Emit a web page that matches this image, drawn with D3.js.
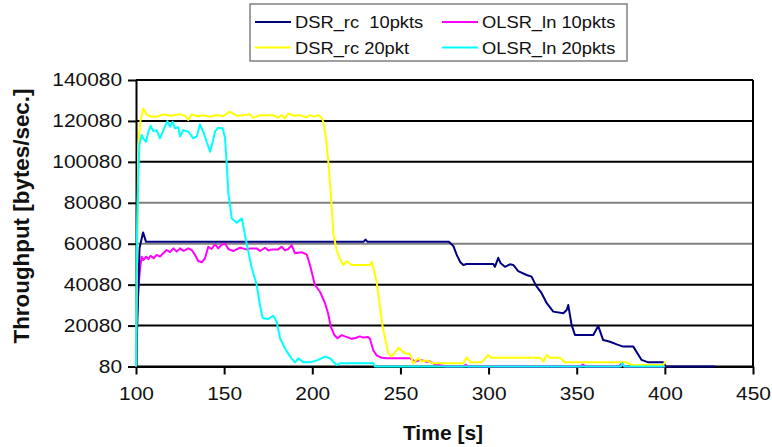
<!DOCTYPE html>
<html><head><meta charset="utf-8">
<script src="https://cdn.jsdelivr.net/npm/d3@7"></script>
<style>
body{margin:0;background:#fff;}
svg{display:block;font-family:"Liberation Sans",Arial,Helvetica,sans-serif;}
</style>
</head><body>
<svg id="chart" width="772" height="447"></svg>
<script>
// ---- data ----
const xTicks = [100,150,200,250,300,350,400,450];
const yTicks = [80,20080,40080,60080,80080,100080,120080,140080];
const seriesNames = ["DSR_rc  10pkts","OLSR_ln 10pkts","DSR_rc 20pkt","OLSR_ln 20pkts"];
const seriesColors = ["#000080","#FF00FF","#FFFF00","#00FFFF"];

const dsr10 = [[100,80],[102,58000],[104,65600],[105.7,61000],[229,61000],[230.2,62100],[231.4,61000],[277.5,61000],[280,59000],[282,54500],[284,51000],[285.7,49700],[287.5,50200],[302.7,50200],[303.6,48800],[305.5,53200],[306.9,50500],[309.3,48800],[312.1,50000],[314,49700],[316.8,46700],[321.6,44800],[324.4,44000],[326.9,39600],[330.1,35900],[333,31000],[336.7,26900],[342.4,26100],[344.3,27700],[345.2,30100],[347.1,20400],[349,15500],[359.4,15500],[362.2,19900],[365,13000],[368.9,12200],[372.7,10900],[376.4,9800],[382.1,9800],[386.8,3300],[390.6,2100],[399.1,2100],[400.6,80],[428.4,80]];

const dsr20 = [[100,80],[101.3,108000],[102.5,120000],[104.1,126200],[106,123300],[107.9,122400],[111.7,122100],[115.5,123300],[119.3,122600],[125,123300],[127.9,122600],[129.7,120500],[131.6,123300],[135,122400],[138.5,122800],[142,122100],[146,123000],[149.5,122400],[153.3,124600],[157.1,122600],[160.5,122800],[164.7,123300],[166.5,121600],[170.3,122900],[177.9,122900],[180.7,121600],[182.5,123000],[184.5,121300],[186.4,123800],[189.5,122600],[193,122900],[196.5,121800],[198.7,122900],[201,122200],[203.4,122900],[205.3,121600],[206.2,119700],[207.8,111600],[209.1,100100],[210.5,85000],[211.9,65200],[213.8,57000],[215.7,52500],[217.6,49700],[219.5,51500],[222.3,49700],[232.7,49700],[233.7,51300],[236.5,41500],[239.9,19500],[243.1,6500],[245,4900],[248.8,9200],[252.6,6500],[255.4,6200],[257.3,1640],[260.1,4100],[262,2500],[264.9,3000],[268.7,1640],[285.6,1640],[287.5,4500],[289.8,2130],[296,2130],[299.8,5700],[301.7,4400],[329.2,4400],[331.1,2430],[333,5700],[334.8,4400],[340.5,4400],[343.3,2130],[378.3,2130],[381.1,810],[399.1,810],[400.2,2500]];

const olsr10 = [[100,80],[100.4,20400],[101.3,38000],[102.3,48000],[103.2,53700],[104.1,52100],[105.7,53700],[107,52600],[108.3,54200],[110,53000],[111.7,54600],[113.6,53800],[115.5,55400],[117.4,57000],[119.3,56000],[121.2,57800],[123.1,56200],[125,57800],[127,56600],[129.7,57800],[131.6,57000],[133.5,54600],[135.3,51600],[137.3,51000],[139.1,52900],[141,58600],[142.9,57500],[144.8,59800],[146.7,57800],[148.6,59600],[150.5,60200],[152.4,57500],[155.2,56500],[157,57300],[159,58100],[160.5,57800],[162.6,57300],[165,57800],[168.5,57800],[170.4,56500],[173.2,58100],[175.1,56800],[177,57300],[180.7,57300],[182.6,58600],[184.5,56800],[186.4,57500],[188.3,59400],[190.2,55400],[194,55900],[196.8,54900],[198.7,49700],[201.5,39900],[204.4,36600],[207.2,31000],[209,26000],[210.5,19500],[212.5,15500],[214.3,13900],[216.7,15400],[218.5,14800],[220.5,14200],[222.5,13600],[224.5,14000],[227,14800],[229,14200],[231.6,14500],[232.7,13600],[234.6,8000],[236.5,5500],[239.4,4300],[242.2,4100],[255.4,4100],[258.3,2500],[261.1,3260],[263,2900],[264.9,2430],[266.8,2600],[269.6,1150],[276,80],[285.5,80],[287,900],[288.5,80],[352,80],[353.5,1100],[355,80],[374,80],[375.5,1600],[377,80],[400,80]];

const olsr20 = [[100,80],[100.5,60000],[101.3,93600],[101.9,108300],[103.2,113200],[104.1,111600],[105.7,109900],[107,114800],[108.3,117700],[109.8,115100],[111.7,115600],[113.6,111600],[115.5,115600],[117.8,120000],[119.3,117200],[120.8,119700],[122.1,116500],[124,117000],[125,112400],[126.8,115600],[129.7,114800],[132.5,111600],[134.5,112500],[136.3,118400],[138.2,114800],[140.1,109900],[142,105000],[143.5,109900],[144.8,114800],[146.7,116800],[149.2,116500],[150.5,111600],[151.4,100100],[152.4,84700],[154.3,72500],[157.1,70300],[160,72500],[162.8,60000],[165.6,48500],[168.5,39900],[170.3,30100],[171.9,23600],[175,23300],[177.9,24900],[179.8,22000],[181.7,13900],[184.5,9000],[187.4,4900],[190.2,2100],[192.1,4100],[194.9,2100],[198.7,2100],[203.4,3300],[207.2,4900],[210,4100],[211,3260],[213.8,800],[215.7,1640],[234.6,1640],[235.6,80],[375,80],[376,1640],[377,80],[400,80]];

// ---- drawing ----
const svg = d3.select("#chart");
const L = 136, R = 753, T = 80, B = 366.5;
const x = d3.scaleLinear().domain([100,450]).range([L,R]);
const y = d3.scaleLinear().domain([80,140080]).range([B,T]);

function stretch(sel, f){
  sel.each(function(){
    const w = this.getComputedTextLength();
    this.setAttribute("textLength", w*f);
    this.setAttribute("lengthAdjust","spacingAndGlyphs");
  });
}

// gridlines (two of them render lighter in the original)
svg.append("g").selectAll("line").data(yTicks).join("line")
  .attr("x1",L).attr("x2",R).attr("y1",d=>y(d)).attr("y2",d=>y(d))
  .attr("stroke",d=>(d===60080||d===80080)?"#808080":"#000")
  .attr("stroke-width",2);
// right border
svg.append("line").attr("x1",R).attr("x2",R).attr("y1",T).attr("y2",B)
  .attr("stroke","#000").attr("stroke-width",2);

// axes
const yAxis = svg.append("g").attr("transform",`translate(${L},0)`)
  .call(d3.axisLeft(y).tickValues(yTicks).tickSize(8).tickSizeOuter(0).tickPadding(6).tickFormat(d=>String(d)));
const xAxis = svg.append("g").attr("transform",`translate(0,${B})`)
  .call(d3.axisBottom(x).tickValues(xTicks).tickSize(8).tickSizeOuter(0).tickPadding(12).tickFormat(d=>String(d)));
[yAxis,xAxis].forEach(a=>{
  a.select(".domain").attr("stroke","#000").attr("stroke-width",2);
  a.selectAll(".tick line").attr("stroke","#000").attr("stroke-width",2);
  a.selectAll(".tick text").attr("fill","#111").style("font-size","18.5px")
   .style("font-family",'"Liberation Sans",Arial,sans-serif');
});
stretch(yAxis.selectAll(".tick text"),1.13);
stretch(xAxis.selectAll(".tick text"),1.13);

// series lines
const line = d3.line().x(d=>x(d[0])).y(d=>y(d[1]));
const drawOrder = [[olsr10,1],[dsr10,0],[dsr20,2],[olsr20,3]];
drawOrder.forEach(([data,i])=>{
  svg.append("path").datum(data).attr("d",line)
    .attr("fill","none").attr("stroke",seriesColors[i]).attr("stroke-width",2)
    .attr("stroke-linejoin","round");
});

// axis titles
svg.append("text").attr("transform","translate(29,216) rotate(-90)")
  .attr("text-anchor","middle").style("font-weight","bold").style("font-size","22px")
  .attr("textLength",255).attr("lengthAdjust","spacingAndGlyphs")
  .attr("fill","#111").text("Throughput [bytes/sec.]");
svg.append("text").attr("x",443).attr("y",440)
  .attr("text-anchor","middle").style("font-weight","bold").style("font-size","21px")
  .attr("fill","#111").text("Time [s]");

// legend
const lg = svg.append("g");
lg.append("rect").attr("x",250).attr("y",4).attr("width",377).attr("height",57)
  .attr("fill","#fff").attr("stroke","#808080").attr("stroke-width",1.5);
const legPos = [[255,22],[442,22],[255,47.5],[442,47.5]];
seriesNames.forEach((n,i)=>{
  const [lx,ly] = legPos[i];
  lg.append("line").attr("x1",lx).attr("x2",lx+36).attr("y1",ly).attr("y2",ly)
    .attr("stroke",seriesColors[i]).attr("stroke-width",2);
  const t = lg.append("text").attr("x",lx+40).attr("y",ly+6)
    .style("font-size","16.5px").style("white-space","pre").attr("fill","#111").text(n);
  stretch(t,1.11);
});
</script>
</body></html>
